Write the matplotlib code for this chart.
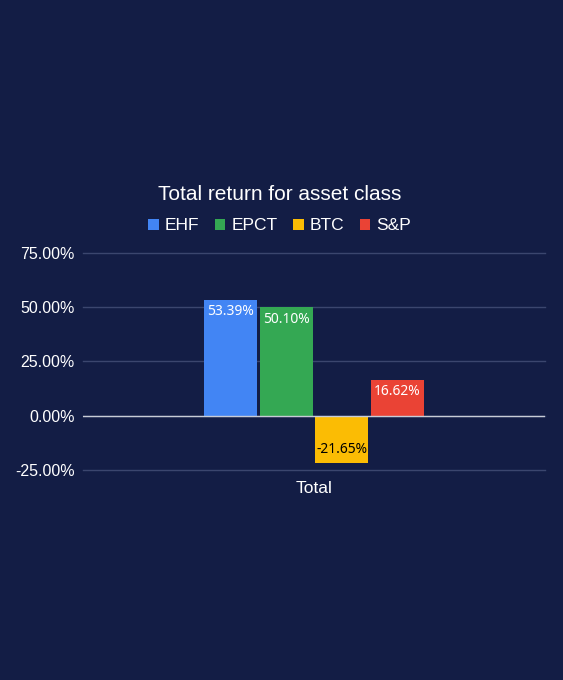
import matplotlib
matplotlib.use("Agg")
import matplotlib.pyplot as plt
from matplotlib.patches import Patch
from matplotlib.ticker import FuncFormatter

categories = ["Total"]
series = ["EHF", "EPCT", "BTC", "S&P"]
values = [53.39, 50.10, -21.65, 16.62]
colors = ["#4285F4", "#34A853", "#FBBC04", "#EA4335"]
label_colors = ["white", "white", "black", "white"]
yticks = [-25, 0, 25, 50, 75]

bg = "#131D45"
fig = plt.figure(figsize=(5.63, 6.80), dpi=100, facecolor=bg)
ax = fig.add_axes([0.1474, 0.309, 0.8206, 0.319], facecolor=bg)

width = 0.115
offsets = [-0.18, -0.06, 0.06, 0.18]
for s, v, c, lc, off in zip(series, values, colors, label_colors, offsets):
    ax.bar(0 + off, v, width=width, color=c, zorder=3)
    ax.text(0 + off, v - 5.6 if v > 0 else v + 6.0, f"{v:.2f}%",
            ha="center", va="center", color=lc, fontsize=10,
            family="Noto Sans", zorder=4)

ax.set_xlim(-0.5, 0.5)
ax.set_ylim(-25, 75)
ax.set_yticks(yticks)
ax.yaxis.set_major_formatter(FuncFormatter(lambda y, p: f"{y:.2f}%"))
ax.set_xticks([0])
ax.set_xticklabels(categories)
ax.grid(axis="y", color="#3B466E", linewidth=1, zorder=0)
for gl in ax.get_ygridlines():
    gl.set_clip_on(False)
ax.axhline(0, color="#C8CCD6", linewidth=1, zorder=5)
for sp in ax.spines.values():
    sp.set_visible(False)
ax.tick_params(axis="both", length=0, colors="white")
for t in ax.get_yticklabels():
    t.set_family("Liberation Sans")
    t.set_fontsize(11.5)
for t in ax.get_xticklabels():
    t.set_family("Liberation Sans")
    t.set_fontsize(12.5)
ax.tick_params(axis="y", pad=6)
ax.tick_params(axis="x", pad=8)

fig.text(0.497, 1 - 195 / 680, "Total return for asset class", ha="center", va="center",
         color="white", fontsize=15, family="Liberation Sans")
handles = [Patch(facecolor=c, edgecolor="none", label=s) for s, c in zip(series, colors)]
leg = fig.legend(handles=handles, loc="center", bbox_to_anchor=(0.497, 1 - 226 / 680),
                 ncol=4, frameon=False, handlelength=0.6, handleheight=0.6,
                 handletextpad=0.35, columnspacing=0.9,
                 prop={"family": "Liberation Sans", "size": 12.5})
for t in leg.get_texts():
    t.set_color("white")

fig.savefig("out.png", dpi=100, facecolor=bg)
